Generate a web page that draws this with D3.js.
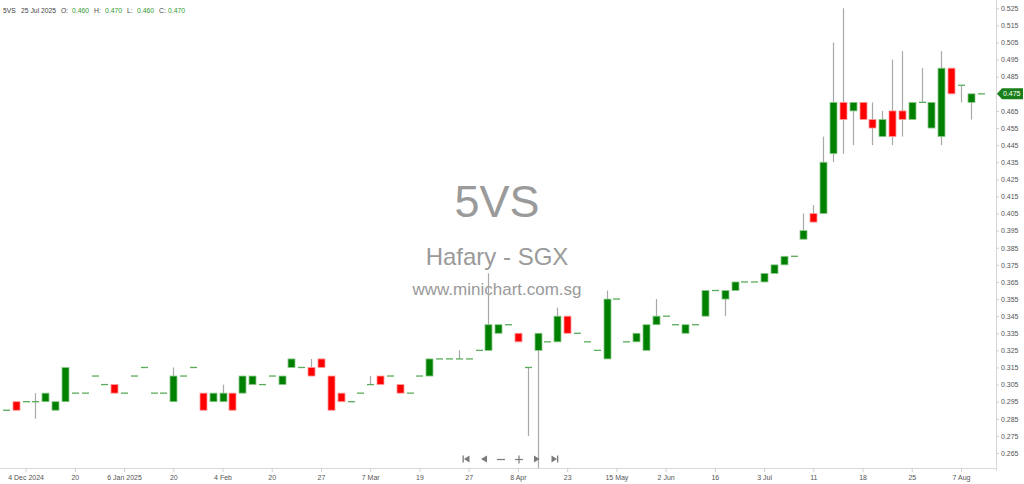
<!DOCTYPE html>
<html><head><meta charset="utf-8">
<script src="https://cdn.jsdelivr.net/npm/d3@7"></script>
<style>
html,body{margin:0;padding:0;background:#fff;}
svg{display:block;font-family:"Liberation Sans",Arial,sans-serif;}
</style></head>
<body><svg id="c" width="1024" height="484"></svg>
<script>
// ---- data (one entry per trading session, index 0..99) ----
const openP  = [0.290,0.295,0.295,0.295,0.295,0.290,0.295,0.300,0.300,0.310,
                0.305,0.305,0.300,0.310,0.315,0.300,0.300,0.295,0.310,0.315,
                0.300,0.295,0.295,0.300,0.300,0.305,0.305,0.310,0.305,0.315,
                0.315,0.315,0.320,0.310,0.300,0.295,0.300,0.305,0.310,0.310,
                0.305,0.300,0.310,0.310,0.320,0.320,0.320,0.320,0.325,0.325,
                0.335,0.340,0.335,0.315,0.325,0.330,0.330,0.345,0.335,0.330,
                0.325,0.320,0.355,0.330,0.330,0.325,0.340,0.345,0.340,0.335,
                0.340,0.345,0.360,0.355,0.360,0.365,0.365,0.365,0.370,0.375,
                0.380,0.390,0.405,0.405,0.440,0.470,0.465,0.470,0.460,0.450,
                0.465,0.465,0.460,0.470,0.455,0.450,0.490,0.480,0.470,0.475];
const highP  = [0.290,0.295,0.295,0.300,0.300,0.295,0.315,0.300,0.300,0.310,
                0.305,0.305,0.300,0.310,0.315,0.300,0.300,0.315,0.310,0.315,
                0.300,0.300,0.305,0.300,0.310,0.310,0.305,0.310,0.310,0.320,
                0.315,0.320,0.320,0.310,0.300,0.295,0.300,0.310,0.310,0.310,
                0.305,0.300,0.310,0.320,0.320,0.320,0.325,0.320,0.325,0.370,
                0.340,0.340,0.335,0.315,0.335,0.330,0.350,0.345,0.335,0.330,
                0.325,0.360,0.355,0.330,0.335,0.340,0.355,0.345,0.340,0.340,
                0.340,0.360,0.360,0.360,0.365,0.365,0.365,0.370,0.375,0.380,
                0.380,0.405,0.410,0.450,0.505,0.525,0.470,0.470,0.470,0.465,
                0.495,0.500,0.470,0.490,0.470,0.500,0.490,0.480,0.475,0.475];
const lowP   = [0.290,0.290,0.295,0.285,0.295,0.290,0.295,0.300,0.300,0.310,
                0.305,0.300,0.300,0.310,0.315,0.300,0.300,0.295,0.310,0.315,
                0.290,0.295,0.295,0.290,0.300,0.305,0.305,0.310,0.305,0.315,
                0.315,0.310,0.315,0.290,0.295,0.295,0.300,0.305,0.305,0.310,
                0.300,0.300,0.310,0.310,0.320,0.320,0.320,0.320,0.325,0.325,
                0.335,0.340,0.330,0.275,0.255,0.330,0.330,0.335,0.335,0.330,
                0.325,0.320,0.355,0.330,0.330,0.325,0.340,0.345,0.340,0.335,
                0.340,0.345,0.360,0.345,0.360,0.365,0.365,0.365,0.370,0.375,
                0.380,0.390,0.400,0.405,0.435,0.440,0.445,0.460,0.445,0.450,
                0.445,0.450,0.460,0.470,0.455,0.445,0.475,0.470,0.460,0.475];
const closeP = [0.290,0.290,0.295,0.295,0.300,0.295,0.315,0.300,0.300,0.310,
                0.305,0.300,0.300,0.310,0.315,0.300,0.300,0.310,0.310,0.315,
                0.290,0.300,0.300,0.290,0.310,0.310,0.305,0.310,0.310,0.320,
                0.315,0.310,0.315,0.290,0.295,0.295,0.300,0.305,0.305,0.310,
                0.300,0.300,0.310,0.320,0.320,0.320,0.320,0.320,0.325,0.340,
                0.340,0.340,0.330,0.315,0.335,0.330,0.345,0.335,0.335,0.330,
                0.325,0.355,0.355,0.330,0.335,0.340,0.345,0.345,0.340,0.340,
                0.340,0.360,0.360,0.360,0.365,0.365,0.365,0.370,0.375,0.380,
                0.380,0.395,0.400,0.435,0.470,0.460,0.470,0.460,0.455,0.460,
                0.450,0.460,0.470,0.470,0.470,0.490,0.475,0.480,0.475,0.475];
const tickIndex  = [2,7,12,17,22,27,32,37,42,47,52,57,62,67,72,77,82,87,92,97];
const tickLabels = ["4 Dec 2024","20","6 Jan 2025","20","4 Feb","20","27","7 Mar","19","27",
                    "8 Apr","23","15 May","2 Jun","16","3 Jul","11","18","25","7 Aug"];
const priceTicks = [0.265,0.275,0.285,0.295,0.305,0.315,0.325,0.335,0.345,0.355,0.365,0.375,0.385,
                    0.395,0.405,0.415,0.425,0.435,0.445,0.455,0.465,0.475,0.485,0.495,0.505,0.515,0.525];
const symbol = "5VS", company = "Hafary - SGX", site = "www.minichart.com.sg";
const headerIndex = 92, headerDate = "25 Jul 2025";
const lastPrice = 0.475;

// ---- scales ----
const svg = d3.select("#c");
const plotBottom = 468, axisX = 996;
const x = d3.scaleLinear().domain([2, 97]).range([25.6, 961]);
const y = d3.scaleLinear().domain([0.265, 0.525]).range([453, 8.3]);
const GREEN = "#008000", RED = "#ff0000";

svg.append("defs").append("clipPath").attr("id","plot")
  .append("rect").attr("x",0).attr("y",0).attr("width",axisX).attr("height",plotBottom);

// ---- watermark ----
const wm = svg.append("g").attr("fill","#9a9a9a").attr("text-anchor","middle");
wm.append("text").attr("x",497).attr("y",217).attr("font-size",45).text(symbol);
wm.append("text").attr("x",497).attr("y",265).attr("font-size",24).text(company);
wm.append("text").attr("x",497).attr("y",295).attr("font-size",17).text(site);

// ---- axes ----
svg.append("line").attr("x1",0).attr("x2",axisX).attr("y1",plotBottom+0.5).attr("y2",plotBottom+0.5)
  .attr("stroke","#d8d8d8");
svg.append("line").attr("x1",axisX+0.5).attr("x2",axisX+0.5).attr("y1",0).attr("y2",plotBottom+3)
  .attr("stroke","#d8d8d8");

const xAxis = d3.axisBottom(x).tickValues(tickIndex)
  .tickFormat((d,i)=>tickLabels[i]).tickSize(4).tickPadding(3);
const gx = svg.append("g").attr("transform",`translate(0,${plotBottom})`).call(xAxis);
gx.select(".domain").remove();
gx.selectAll(".tick line").attr("stroke","#cfcfcf");
gx.selectAll(".tick text").attr("fill","#555").attr("font-size",7).attr("font-family","Liberation Sans, Arial, sans-serif");

const yAxis = d3.axisRight(y).tickValues(priceTicks).tickFormat(d3.format(".3f")).tickSize(3).tickPadding(2);
const gy = svg.append("g").attr("transform",`translate(${axisX},0)`).call(yAxis);
gy.select(".domain").remove();
gy.selectAll(".tick line").attr("stroke","#cfcfcf");
gy.selectAll(".tick text").attr("fill","#555").attr("font-size",7).attr("font-family","Liberation Sans, Arial, sans-serif");

// ---- candles ----
const data = d3.range(openP.length).map(i=>({i,o:openP[i],h:highP[i],l:lowP[i],c:closeP[i]}));
const g = svg.append("g").attr("clip-path","url(#plot)");
g.selectAll("line.wick").data(data.filter(d=>d.h>Math.max(d.o,d.c)||d.l<Math.min(d.o,d.c)))
  .join("line").attr("class","wick")
  .attr("x1",d=>Math.round(x(d.i))+0.5).attr("x2",d=>Math.round(x(d.i))+0.5)
  .attr("y1",d=>y(d.h)).attr("y2",d=>y(d.l))
  .attr("stroke","#a8a8a8").attr("stroke-width",1.2);
const bw = 7;
g.selectAll("rect.body").data(data.filter(d=>d.o!==d.c)).join("rect").attr("class","body")
  .attr("x",d=>Math.round(x(d.i))+0.5-bw/2).attr("width",bw)
  .attr("y",d=>y(Math.max(d.o,d.c))).attr("height",d=>Math.abs(y(d.o)-y(d.c)))
  .attr("fill",d=>d.c>d.o?GREEN:RED)
  .attr("stroke",d=>d.c>d.o?"#8cc98c":"#ff9a9a").attr("stroke-width",0.8);
g.selectAll("line.doji").data(data.filter(d=>d.o===d.c)).join("line").attr("class","doji")
  .attr("x1",d=>Math.round(x(d.i))+0.5-bw/2).attr("x2",d=>Math.round(x(d.i))+0.5+bw/2)
  .attr("y1",d=>y(d.c)).attr("y2",d=>y(d.c))
  .attr("stroke","#5aac5a").attr("stroke-width",1.3);

// ---- last price tag ----
const ty = y(lastPrice);
svg.append("path")
  .attr("d",`M${axisX+1},${ty} L${axisX+6},${ty-5.5} L1023,${ty-5.5} L1023,${ty+5.5} L${axisX+6},${ty+5.5} Z`)
  .attr("fill","#1a7f1a");
svg.append("text").attr("x",axisX+7).attr("y",ty+2.5).attr("fill","#fff").attr("font-size",7)
  .text(d3.format(".3f")(lastPrice));

// ---- header ----
const hf = d3.format(".3f");
const hdr = svg.append("g").attr("font-size",6.8);
const hItems = [
  [3,symbol,"#444"],[21,headerDate,"#444"],
  [61,"O:","#444"],[72,hf(openP[headerIndex]),"#2e9a2e"],
  [94,"H:","#444"],[105,hf(highP[headerIndex]),"#2e9a2e"],
  [127,"L:","#444"],[137,hf(lowP[headerIndex]),"#2e9a2e"],
  [159,"C:","#444"],[168,hf(closeP[headerIndex]),"#2e9a2e"]];
hItems.forEach(([hx,t,col])=>hdr.append("text").attr("x",hx).attr("y",12.5).attr("fill",col).text(t));

// ---- navigation buttons ----
const nav = svg.append("g").attr("fill","#7a7a7a").attr("stroke","#7a7a7a");
const ny = 459;
nav.append("rect").attr("x",462.5).attr("y",ny-3.5).attr("width",1.3).attr("height",7).attr("stroke","none");
nav.append("path").attr("d",`M464,${ny} L469.5,${ny-3.5} L469.5,${ny+3.5} Z`).attr("stroke","none");
nav.append("path").attr("d",`M481,${ny} L487,${ny-3.5} L487,${ny+3.5} Z`).attr("stroke","none");
nav.append("line").attr("x1",497).attr("x2",505).attr("y1",ny+0.5).attr("y2",ny+0.5).attr("stroke-width",1.2);
nav.append("line").attr("x1",515).attr("x2",523).attr("y1",ny+0.5).attr("y2",ny+0.5).attr("stroke-width",1.2);
nav.append("line").attr("x1",519).attr("x2",519).attr("y1",ny-3.5).attr("y2",ny+4.5).attr("stroke-width",1.2);
nav.append("path").attr("d",`M539.5,${ny} L534,${ny-3.5} L534,${ny+3.5} Z`).attr("stroke","none");
nav.append("path").attr("d",`M557,${ny} L551.5,${ny-3.5} L551.5,${ny+3.5} Z`).attr("stroke","none");
nav.append("rect").attr("x",557).attr("y",ny-3.5).attr("width",1.3).attr("height",7).attr("stroke","none");
</script></body></html>
